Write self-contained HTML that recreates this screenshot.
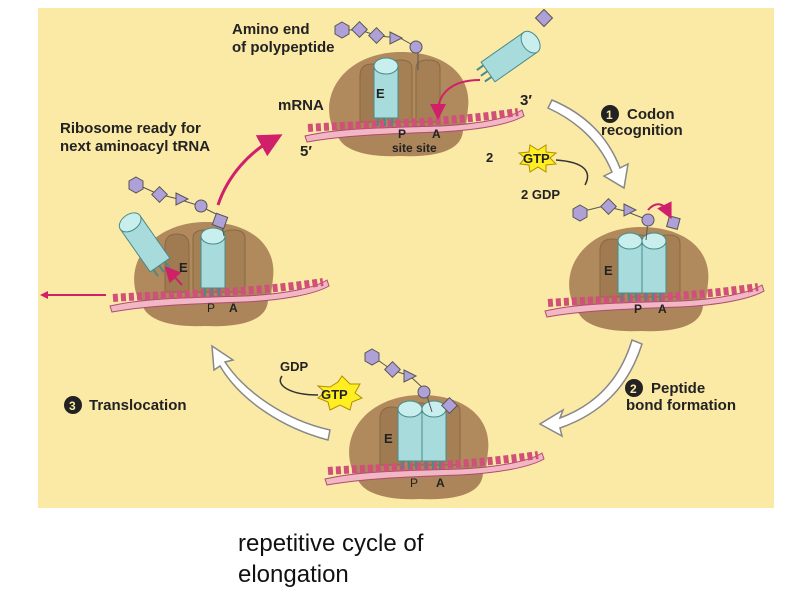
<!DOCTYPE html>
<html><head><style>
body{margin:0;background:#fff;width:800px;height:600px;overflow:hidden;font-family:"Liberation Sans",sans-serif}
svg{position:absolute;left:0;top:0}
.cap{position:absolute;left:238px;top:528px;font-size:24px;line-height:31px;color:#111}
</style></head><body>
<svg width="800" height="600" viewBox="0 0 800 600" font-family="Liberation Sans, sans-serif">
<defs>
<g id="rib">
 <path d="M-68,4 C-80,-30 -54,-68 -2,-70 C46,-71 72,-46 68,-14 L66,4 Z" fill="#b08a5c"/>
 <path d="M-62,0 C-70,24 -42,36 0,34 C46,36 68,24 62,0 Z" fill="#ac865a"/>
 <path d="M-40,0 V-46 Q-40,-58 -28,-58 Q-16,-58 -16,-46 V0 Z" fill="#a07a50" stroke="#8a6844" stroke-width="1"/>
 <path d="M-12,0 V-54 Q-12,-62 0,-62 Q12,-62 12,-54 V0 Z" fill="#a58055" stroke="#8a6844" stroke-width="1"/>
 <path d="M16,0 V-54 Q16,-62 28,-62 Q40,-62 40,-54 V0 Z" fill="#a58055" stroke="#8a6844" stroke-width="1"/>
</g>
<g id="mrna">
 <path d="M-95,14 C-60,6 -20,6 40,4 C80,2 110,-4 122,-12 L124,-6 C110,2 80,8 40,10 C-20,12 -60,14 -93,20 Z" fill="#f2b7c4" stroke="#b04a70" stroke-width="1"/>
 <path d="M-92,6 C-40,2 40,2 118,-10" fill="none" stroke="#d0507a" stroke-width="8" stroke-dasharray="5,3"/>
</g>
<g id="trna">
 <rect x="-12" y="-52" width="24" height="52" fill="#a8dcdc" stroke="#4a8a8a"/>
 <ellipse cx="0" cy="-52" rx="12" ry="8" fill="#c8eeee" stroke="#4a8a8a"/>
 <path d="M-8,0 v8 M-1,0 v8 M6,0 v8" stroke="#4a8a8a" stroke-width="2"/>
</g>
<marker id="pk" markerWidth="8" markerHeight="8" refX="4" refY="4" orient="auto"><path d="M0,0 L8,4 L0,8 Z" fill="#d0206a"/></marker>
</defs>
<rect x="38" y="8" width="736" height="500" fill="#fbe9a6"/>

<g fill="#fff" stroke="#888" stroke-width="1.5">
 <path d="M548,108 C585,125 603,150 612,172 L604,176 L624,188 L628,164 L620,168 C610,142 590,116 552,100 Z"/>
 <path d="M632,340 C620,380 595,405 560,418 L563,410 L540,424 L562,436 L560,428 C600,414 628,388 642,344 Z"/>
 <path d="M330,430 C285,420 245,392 225,362 L233,360 L212,346 L214,370 L220,366 C240,400 282,428 328,440 Z"/>
</g>
<path d="M218,205 C228,175 250,152 272,140" fill="none" stroke="#d0206a" stroke-width="3" marker-end="url(#pk)"/>

<g transform="translate(400,122)">
 <use href="#rib"/><use href="#mrna"/>
 <g transform="translate(-14,-4)"><use href="#trna"/></g>
 <text x="-24" y="-24" font-size="13" font-weight="bold" fill="#222">E</text>
 <text x="-2" y="16" font-size="12" font-weight="bold" fill="#222">P</text>
 <text x="32" y="16" font-size="12" font-weight="bold" fill="#222">A</text>
 <text x="-8" y="30" font-size="12" font-weight="bold" fill="#222">site site</text>
</g>
<g transform="translate(488,72) rotate(55)"><use href="#trna"/></g>
<path d="M480,80 C450,80 438,95 438,112" fill="none" stroke="#d0206a" stroke-width="2" marker-end="url(#pk)"/>
<g fill="#b0a0d8" stroke="#555" stroke-width="1">
 <polyline points="342,30 360,30 378,36 400,38 418,48 418,70" fill="none"/>
 <polygon points="342,22 349,26 349,34 342,38 335,34 335,26"/>
 <rect x="354" y="24" width="11" height="11" transform="rotate(45 359.5 29.5)"/>
 <rect x="371" y="30" width="11" height="11" transform="rotate(45 376.5 35.5)"/>
 <polygon points="390,32 402,38 390,44"/>
 <circle cx="416" cy="47" r="6"/>
 <rect x="538" y="12" width="12" height="12" transform="rotate(45 544 18)"/>
</g>
<g transform="translate(640,297)">
 <use href="#rib"/><use href="#mrna"/>
 <g transform="translate(-10,-4)"><use href="#trna"/></g>
 <g transform="translate(14,-4)"><use href="#trna"/></g>
 <text x="-36" y="-22" font-size="13" font-weight="bold" fill="#222">E</text>
 <text x="-6" y="16" font-size="12" font-weight="bold" fill="#222">P</text>
 <text x="18" y="16" font-size="12" font-weight="bold" fill="#222">A</text>
</g>
<g fill="#b0a0d8" stroke="#555">
 <polyline points="580,212 604,206 625,211 648,220 646,240" fill="none"/>
 <polygon points="580,205 587,209 587,217 580,221 573,217 573,209"/>
 <rect x="603" y="201" width="11" height="11" transform="rotate(45 608.5 206.5)"/>
 <polygon points="624,204 636,210 624,216"/>
 <circle cx="648" cy="220" r="6"/>
 <rect x="668" y="217" width="11" height="11" transform="rotate(15 673 222)"/>
</g>
<path d="M648,210 C655,202 663,202 668,212" fill="none" stroke="#d0206a" stroke-width="2" marker-end="url(#pk)"/>
<g transform="translate(420,465)">
 <use href="#rib"/><use href="#mrna"/>
 <g transform="translate(-10,-4)"><use href="#trna"/></g>
 <g transform="translate(14,-4)"><use href="#trna"/></g>
 <text x="-36" y="-22" font-size="13" font-weight="bold" fill="#222">E</text>
 <text x="-10" y="22" font-size="12" fill="#222">P</text>
 <text x="16" y="22" font-size="12" font-weight="bold" fill="#222">A</text>
</g>
<g fill="#b0a0d8" stroke="#555">
 <polyline points="372,356 392,370 410,376 425,390 432,412" fill="none"/>
 <polygon points="372,349 379,353 379,361 372,365 365,361 365,353"/>
 <rect x="387" y="364" width="11" height="11" transform="rotate(45 392.5 369.5)"/>
 <polygon points="404,370 416,376 404,382"/>
 <circle cx="424" cy="392" r="6"/>
 <rect x="444" y="400" width="11" height="11" transform="rotate(45 449.5 405.5)"/>
</g>
<g transform="translate(205,292)">
 <use href="#rib"/><use href="#mrna"/>
 <g transform="translate(8,-4)"><use href="#trna"/></g>
 <text x="-26" y="-20" font-size="13" font-weight="bold" fill="#222">E</text>
 <text x="2" y="20" font-size="12" fill="#222">P</text>
 <text x="24" y="20" font-size="12" font-weight="bold" fill="#222">A</text>
</g>
<g transform="translate(160,265) rotate(-35)"><use href="#trna"/></g>
<path d="M44,295 H106" stroke="#d0206a" stroke-width="2"/><path d="M40,295 l8,-4 v8 Z" fill="#d0206a"/>
<path d="M182,285 L170,272" stroke="#d0206a" stroke-width="2" marker-end="url(#pk)"/>
<g fill="#b0a0d8" stroke="#555">
 <polyline points="136,184 158,194 178,199 200,206 220,216 224,236" fill="none"/>
 <polygon points="136,177 143,181 143,189 136,193 129,189 129,181"/>
 <rect x="154" y="189" width="11" height="11" transform="rotate(45 159.5 194.5)"/>
 <polygon points="176,193 188,199 176,205"/>
 <circle cx="201" cy="206" r="6"/>
 <rect x="214" y="215" width="12" height="12" transform="rotate(20 220 221)"/>
</g>
<g font-weight="bold" font-size="13">
 <polygon points="530,145 538,150 546,145 546,152 556,153 550,158 556,164 546,165 546,172 538,167 530,172 529,165 520,164 525,158 519,153 529,152" fill="#ffee22" stroke="#b09000"/>
 <text x="523" y="163" fill="#222">GTP</text>
 <text x="486" y="162" fill="#222">2</text>
 <path d="M556,160 C585,162 592,172 585,185" fill="none" stroke="#333" stroke-width="1.5"/>
 <text x="521" y="199" fill="#222">2 GDP</text>
 <polygon points="330,387 338,382 342,376 350,384 360,384 355,393 362,398 352,402 350,410 340,405 330,410 328,402 318,398 325,392 318,386" fill="#ffee22" stroke="#b09000"/>
 <text x="321" y="399" fill="#222">GTP</text>
 <text x="280" y="371" fill="#222">GDP</text>
 <path d="M318,395 C290,395 275,385 282,376" fill="none" stroke="#333" stroke-width="1.5"/>
</g>
<g font-weight="bold" font-size="15" fill="#222">
 <text x="232" y="34">Amino end</text>
 <text x="232" y="52">of polypeptide</text>
 <text x="278" y="110">mRNA</text>
 <text x="520" y="105">3′</text>
 <text x="300" y="156">5′</text>
 <text x="60" y="133">Ribosome ready for</text>
 <text x="60" y="151">next aminoacyl tRNA</text>
 <circle cx="610" cy="114" r="9" fill="#222"/><text x="606" y="119" font-size="12" fill="#fbe9a6">1</text>
 <text x="627" y="119">Codon</text>
 <text x="601" y="135">recognition</text>
 <circle cx="634" cy="388" r="9" fill="#222"/><text x="630" y="393" font-size="12" fill="#fbe9a6">2</text>
 <text x="651" y="393">Peptide</text>
 <text x="626" y="410">bond formation</text>
 <circle cx="73" cy="405" r="9" fill="#222"/><text x="69" y="410" font-size="12" fill="#fbe9a6">3</text>
 <text x="89" y="410">Translocation</text>
</g>
</svg>
<div class="cap">repetitive cycle of<br>elongation</div>
</body></html>
